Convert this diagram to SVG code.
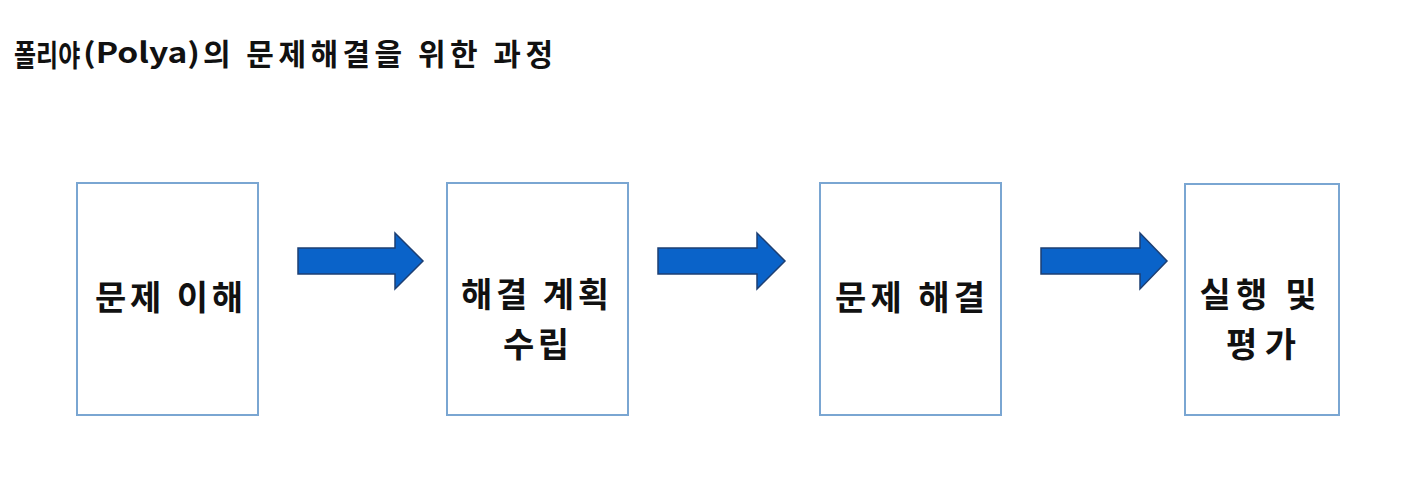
<svg xmlns="http://www.w3.org/2000/svg" width="1415" height="487" viewBox="0 0 1415 487">
<style>
.box{fill:#fff;stroke:#7aa6d2;stroke-width:2}
.lbl{font-family:"Noto Sans CJK KR","Noto Sans",sans-serif;font-weight:bold;font-size:34px;fill:#111;text-anchor:middle}
.title{font-family:"Noto Sans CJK KR","Noto Sans",sans-serif;font-weight:bold;font-size:30px;fill:#111}
.arr{fill:#0a63c9;stroke:#1d3f73;stroke-width:1.5;stroke-linejoin:miter}
</style>
<rect width="1415" height="487" fill="#fff"/>
<g id="title">
<text class="title" transform="translate(14,66) scale(1,1.25)" x="0" y="0" style="font-size:24px">폴리야</text>
<text class="title" x="83" y="63" style="font-size:28px" textLength="117" lengthAdjust="spacingAndGlyphs">(Polya)</text>
<text class="title" x="203" y="65" textLength="350" lengthAdjust="spacing">의 문제해결을 위한 과정</text>
</g>
<g id="node1"><rect class="box" x="77" y="183" width="181" height="232"/><text class="lbl" x="169" y="310" textLength="148" lengthAdjust="spacing">문제 이해</text></g>
<g id="node2"><rect class="box" x="447" y="183" width="181" height="232"/><text class="lbl" x="535" y="307" textLength="148" lengthAdjust="spacing">해결 계획</text><text class="lbl" x="536" y="357" textLength="66" lengthAdjust="spacing">수립</text></g>
<g id="node3"><rect class="box" x="820" y="183" width="181" height="232"/><text class="lbl" x="910" y="310" textLength="150" lengthAdjust="spacing">문제 해결</text></g>
<g id="node4"><rect class="box" x="1185" y="184" width="154" height="231"/><text class="lbl" x="1258" y="307" textLength="117" lengthAdjust="spacing">실행 및</text><text class="lbl" x="1261" y="357" textLength="70" lengthAdjust="spacing">평가</text></g>
<g id="connectors">
<path class="arr" d="M298,248 H395 V233 L423,261 L395,289 V274 H298 Z"/>
<path class="arr" d="M658,248 H757 V233 L785,261 L757,289 V274 H658 Z"/>
<path class="arr" d="M1041,248 H1140 V233 L1167,261 L1140,289 V274 H1041 Z"/>
</g>
</svg>
